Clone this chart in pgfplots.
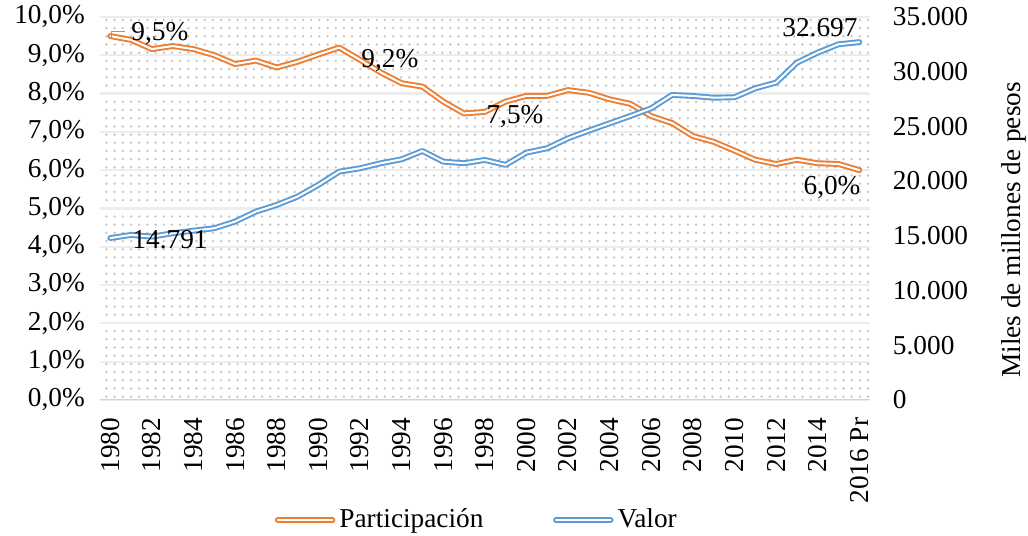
\documentclass[border=0pt]{standalone}
\usepackage{fontspec}
\setmainfont{Liberation Serif}
\usepackage{pgfplots}
\usepackage{pgfplotstable}
\pgfplotsset{compat=1.18}
\usetikzlibrary{patterns}

\definecolor{naranja}{HTML}{ED7D31}
\definecolor{azul}{HTML}{5B9BD5}

% anio: 0 = 1980 ... 36 = 2016 Pr
\pgfplotstableread{
idx part valor
0  9.50 14791
1  9.40 15080
2  9.16 14925
3  9.24 15230
4  9.16 15470
5  9.00 15690
6  8.77 16300
7  8.86 17210
8  8.68 17820
9  8.83 18580
10 9.02 19650
11 9.20 20860
12 8.88 21170
13 8.55 21630
14 8.27 21990
15 8.18 22750
16 7.79 21780
17 7.48 21630
18 7.52 21930
19 7.79 21480
20 7.94 22600
21 7.94 23000
22 8.09 23910
23 8.02 24610
24 7.85 25280
25 7.73 25950
26 7.41 26650
27 7.23 27870
28 6.89 27780
29 6.74 27620
30 6.51 27660
31 6.27 28480
32 6.16 29000
33 6.27 30820
34 6.18 31740
35 6.16 32500
36 6.00 32697
}\datos

\pgfplotsset{
  linea/.style={line width=0.7pt, double=white, double distance=0.75pt,
    line join=round, line cap=round},
  comun/.style={
    scale only axis, width=282pt, height=140.3pt,
    xmin=-0.5, xmax=36.5,
    major tick length=0,
    /pgf/number format/assume math mode=true,
  },
}

\begin{document}
\begin{tikzpicture}
\begin{axis}[
  comun,
  ymin=0, ymax=10,
  xtick={0,2,...,36},
  xticklabels={1980,1982,1984,1986,1988,1990,1992,1994,1996,1998,2000,2002,2004,2006,2008,2010,2012,2014,2016 Pr},
  xticklabel style={yshift=-3pt, rotate=90, anchor=east},
  ytick={0,1,...,10},
  yticklabel={\pgfmathprintnumber[fixed,fixed zerofill,precision=1,use comma]{\tick}\%},
  yticklabel style={xshift=-2pt},
  axis line style={draw=none},
  ymajorgrids,
  grid style={black!7, line width=0.8pt},
  axis background/.style={pattern=dots, pattern color=black!22},
  legend columns=2,
  legend image code/.code={\draw[#1] (0pt,0pt) -- (20pt,0pt);},
  legend style={at={(axis description cs:0.491,-0.314)}, anchor=center,
    draw=none, fill=none, nodes={inner xsep=1.5pt},
    /tikz/every even column/.append style={column sep=24pt}},
]
\draw[black!18, line width=0.8pt] (rel axis cs:0,0) -- (rel axis cs:1,0);
\addplot[linea, draw=naranja] table[x=idx, y=part] {\datos};
\addlegendentry{Participación}
\addlegendimage{linea, draw=azul}
\addlegendentry{Valor}
\draw[black!40, line width=0.5pt] (axis cs:0.07,9.45) -- (axis cs:0.07,9.62) -- (axis cs:0.7,9.62);
\node at (axis cs:2.38,9.56) {9,5\%};
\node at (axis cs:13.44,8.85) {9,2\%};
\node at (axis cs:19.45,7.40) {7,5\%};
\node at (axis cs:34.69,5.54) {6,0\%};
\end{axis}

\begin{axis}[
  comun,
  ymin=0, ymax=35000,
  axis x line=none,
  axis y line*=right,
  y axis line style={draw=none},
  ytick={0,5000,...,35000},
  scaled y ticks=false,
  yticklabel style={xshift=5pt, /pgf/number format/.cd, 1000 sep={.}},
  ylabel={Miles de millones de pesos},
  ylabel style={at={(rel axis cs:1.170,0.444)}, anchor=north, inner sep=0pt},
]
\addplot[linea, draw=azul] table[x=idx, y=valor] {\datos};
\node at (axis cs:34.11,33995) {32.697};
\node at (axis cs:2.87,14621) {14.791};
\end{axis}
\pgfresetboundingbox
\path (-36.6pt,-49.8pt) rectangle (340pt,146.5pt);
\end{tikzpicture}
\end{document}
